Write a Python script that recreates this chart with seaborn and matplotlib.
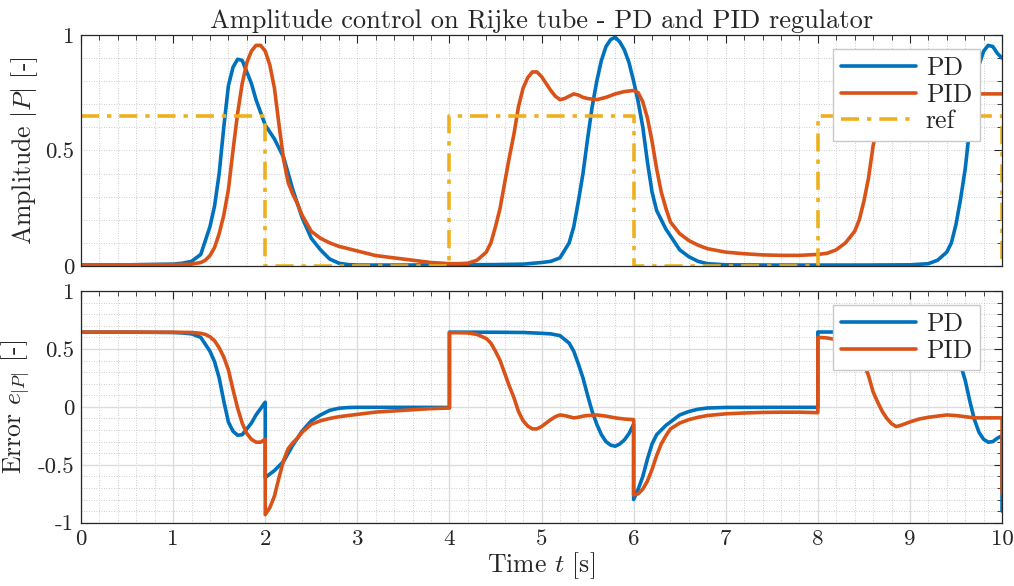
import numpy as np
import pandas as pd
import matplotlib
matplotlib.use("Agg")
import matplotlib.pyplot as plt
import seaborn as sns
from matplotlib.ticker import MultipleLocator, FuncFormatter

# ---------------- data ----------------
t_pd = [0, 0.5, 1.0, 1.1, 1.2, 1.3, 1.4, 1.45, 1.5, 1.55, 1.6, 1.65, 1.7, 1.75, 1.8, 1.85,
        1.9, 1.95, 2.0, 2.0, 2.1, 2.2, 2.3, 2.4, 2.5, 2.6, 2.7, 2.8, 2.9, 3.0, 3.5, 4.0, 4.0,
        4.5, 4.8, 5.0, 5.1, 5.2, 5.3, 5.35, 5.4, 5.45, 5.5, 5.55, 5.6, 5.65, 5.7, 5.75, 5.8,
        5.85, 5.9, 5.95, 6.0, 6.0, 6.05, 6.1, 6.15, 6.2, 6.25, 6.3, 6.35, 6.4, 6.5, 6.6, 6.7,
        6.8, 7.0, 7.5, 8.0, 8.0, 8.5, 9.0, 9.2, 9.3, 9.4, 9.45, 9.5, 9.55, 9.6, 9.65, 9.7,
        9.75, 9.8, 9.85, 9.9, 9.95, 10.0, 10.0]
pd_amp = [0.005, 0.005, 0.008, 0.012, 0.02, 0.05, 0.17, 0.26, 0.40, 0.60, 0.78, 0.86, 0.895,
          0.89, 0.84, 0.79, 0.72, 0.665, 0.61, 0.61, 0.55, 0.47, 0.33, 0.21, 0.12, 0.07, 0.03,
          0.012, 0.006, 0.004, 0.004, 0.005, 0.005, 0.006, 0.008, 0.015, 0.02, 0.035, 0.10,
          0.17, 0.28, 0.40, 0.55, 0.69, 0.80, 0.89, 0.95, 0.98, 0.99, 0.97, 0.935, 0.88, 0.80,
          0.80, 0.71, 0.60, 0.45, 0.32, 0.24, 0.20, 0.16, 0.13, 0.07, 0.04, 0.02, 0.01, 0.005,
          0.004, 0.004, 0.004, 0.004, 0.005, 0.01, 0.025, 0.06, 0.10, 0.18, 0.29, 0.42, 0.60,
          0.76, 0.87, 0.93, 0.955, 0.95, 0.92, 0.90, 0.90]

t_pid = [0, 0.5, 1.0, 1.2, 1.3, 1.35, 1.4, 1.45, 1.5, 1.55, 1.6, 1.65, 1.7, 1.75, 1.8, 1.85,
         1.9, 1.95, 2.0, 2.0, 2.05, 2.1, 2.15, 2.2, 2.25, 2.3, 2.35, 2.4, 2.5, 2.6, 2.7, 2.8,
         3.0, 3.2, 3.4, 3.6, 3.8, 4.0, 4.0, 4.1, 4.2, 4.3, 4.4, 4.45, 4.5, 4.55, 4.6, 4.65,
         4.7, 4.75, 4.8, 4.85, 4.9, 4.95, 5.0, 5.05, 5.1, 5.15, 5.2, 5.25, 5.3, 5.35, 5.4,
         5.45, 5.5, 5.6, 5.7, 5.8, 5.9, 6.0, 6.0, 6.05, 6.1, 6.15, 6.2, 6.25, 6.3, 6.35, 6.4,
         6.5, 6.6, 6.7, 6.8, 7.0, 7.2, 7.4, 7.6, 7.8, 8.0, 8.0, 8.1, 8.2, 8.3, 8.4, 8.45, 8.5,
         8.55, 8.6, 8.65, 8.7, 8.75, 8.8, 8.85, 8.9, 9.0, 9.1, 9.2, 9.3, 9.4, 9.5, 9.6, 9.7,
         9.8, 9.9, 10.0, 10.0]
pid_amp = [0.005, 0.005, 0.006, 0.008, 0.015, 0.025, 0.045, 0.08, 0.14, 0.22, 0.33, 0.50,
           0.66, 0.79, 0.88, 0.93, 0.955, 0.955, 0.93, 0.93, 0.87, 0.77, 0.61, 0.46, 0.36,
           0.31, 0.27, 0.22, 0.15, 0.12, 0.10, 0.085, 0.065, 0.045, 0.035, 0.025, 0.015, 0.01,
           0.01, 0.01, 0.012, 0.025, 0.06, 0.10, 0.17, 0.25, 0.36, 0.47, 0.57, 0.69, 0.77,
           0.815, 0.84, 0.84, 0.82, 0.79, 0.76, 0.735, 0.72, 0.725, 0.735, 0.745, 0.74, 0.73,
           0.725, 0.72, 0.73, 0.745, 0.755, 0.76, 0.76, 0.75, 0.71, 0.64, 0.54, 0.42, 0.32,
           0.25, 0.19, 0.14, 0.11, 0.09, 0.075, 0.06, 0.053, 0.048, 0.046, 0.046, 0.05, 0.05,
           0.055, 0.07, 0.10, 0.15, 0.20, 0.28, 0.38, 0.52, 0.61, 0.69, 0.75, 0.795, 0.82,
           0.81, 0.78, 0.755, 0.74, 0.73, 0.72, 0.725, 0.735, 0.745, 0.745, 0.745, 0.745, 0.745]

# reference: switching instants and level held after each instant
ref_switch = [0, 2, 4, 6, 8, 10]
ref_level = [0.65, 0.0, 0.65, 0.0, 0.65, 0.0]

series_names = ["PD", "PID", "ref"]
title_text = "Amplitude control on Rijke tube - PD and PID regulator"


def ref_on(times):
    """Reference value at each sample; a repeated instant takes the value before then after."""
    out = []
    for i, tt in enumerate(times):
        after = not (i + 1 < len(times) and times[i + 1] == tt)
        k = np.searchsorted(ref_switch, tt, side="right" if after else "left") - 1
        out.append(ref_level[max(k, 0)])
    return np.array(out)


ref_t, ref_v = [], []
for i, s in enumerate(ref_switch):
    if i > 0:
        ref_t.append(s)
        ref_v.append(ref_level[i - 1])
    ref_t.append(s)
    ref_v.append(ref_level[i])

df_pd = pd.DataFrame({"t": t_pd, "amp": pd_amp})
df_pd["err"] = ref_on(t_pd) - df_pd["amp"]
df_pid = pd.DataFrame({"t": t_pid, "amp": pid_amp})
df_pid["err"] = ref_on(t_pid) - df_pid["amp"]
df_ref = pd.DataFrame({"t": ref_t, "ref": ref_v})

# ---------------- style ----------------
sns.set_theme(style="white")
plt.rcParams["font.family"] = ["cmr10", "DejaVu Serif"]
plt.rcParams["mathtext.fontset"] = "cm"
plt.rcParams["axes.unicode_minus"] = False
plt.rcParams["axes.formatter.use_mathtext"] = True

c_pd, c_pid, c_ref = "#0072BD", "#D95319", "#EDB120"
lw = 2.6
txt_c = "#262626"
fs_lab = 18.5

fig = plt.figure(figsize=(10.14, 5.86), dpi=100)
ax1 = fig.add_axes([0.0799, 0.5461, 0.9083, 0.3942])
ax2 = fig.add_axes([0.0799, 0.1080, 0.9083, 0.3954])

sns.lineplot(data=df_pd, x="t", y="amp", ax=ax1, color=c_pd, lw=lw, estimator=None,
             sort=False, label=series_names[0])
sns.lineplot(data=df_pid, x="t", y="amp", ax=ax1, color=c_pid, lw=lw, estimator=None,
             sort=False, label=series_names[1])
sns.lineplot(data=df_ref, x="t", y="ref", ax=ax1, color=c_ref, lw=lw, estimator=None,
             sort=False, label=series_names[2])
ax1.lines[-1].set_dashes([5, 2.2, 1.2, 2.2])

sns.lineplot(data=df_pd, x="t", y="err", ax=ax2, color=c_pd, lw=lw, estimator=None,
             sort=False, label=series_names[0])
sns.lineplot(data=df_pid, x="t", y="err", ax=ax2, color=c_pid, lw=lw, estimator=None,
             sort=False, label=series_names[1])

fmt = FuncFormatter(lambda v, p: "%g" % (round(v, 3) + 0.0))
for ax in (ax1, ax2):
    ax.set_xlim(0, 10)
    ax.xaxis.set_major_locator(MultipleLocator(1))
    ax.xaxis.set_minor_locator(MultipleLocator(0.2))
    ax.yaxis.set_minor_locator(MultipleLocator(0.1))
    ax.yaxis.set_major_formatter(fmt)
    ax.xaxis.set_major_formatter(fmt)
    ax.tick_params(which="both", direction="in", top=True, right=True,
                   colors=txt_c, labelcolor=txt_c, labelsize=16.5)
    ax.tick_params(which="major", length=6, width=0.8, pad=5)
    ax.tick_params(which="minor", length=3.5, width=0.6)
    for sp in ax.spines.values():
        sp.set_color(txt_c)
        sp.set_linewidth(0.9)
    ax.grid(which="minor", color="#bdbdbd", linestyle=(0, (1, 2)), linewidth=0.6)
    ax.set_axisbelow(True)

ax1.set_ylim(0, 1)
ax1.yaxis.set_major_locator(MultipleLocator(0.5))
ax1.grid(which="major", color="#bdbdbd", linestyle=(0, (1, 2)), linewidth=0.6)
ax1.tick_params(labelbottom=False)
ax1.set_xlabel("")
ax1.set_ylabel("Amplitude $|P|$ [-]", fontsize=fs_lab, color=txt_c, labelpad=4)
ax1.set_title(title_text, fontsize=19, color=txt_c, pad=5)

ax2.set_ylim(-1, 1)
ax2.yaxis.set_major_locator(MultipleLocator(0.5))
ax2.grid(which="major", color="#dcdcdc", linestyle="-", linewidth=1.0)
ax2.set_xlabel("Time $t$ [s]", fontsize=fs_lab, color=txt_c, labelpad=1)
ax2.set_ylabel("Error $e_{|P|}$ [-]", fontsize=fs_lab, color=txt_c, labelpad=4)

for ax in (ax1, ax2):
    leg = ax.legend(loc="upper right", bbox_to_anchor=(0.976, 0.94), fontsize=18.5,
                    handlelength=2.9, handletextpad=0.4, borderpad=0.3,
                    labelspacing=0.1, fancybox=False, framealpha=1, borderaxespad=0)
    leg.get_frame().set_edgecolor("#c8c8c8")
    leg.get_frame().set_linewidth(1.0)
    for txt in leg.get_texts():
        txt.set_color(txt_c)

fig.savefig("out.png", dpi=100)
